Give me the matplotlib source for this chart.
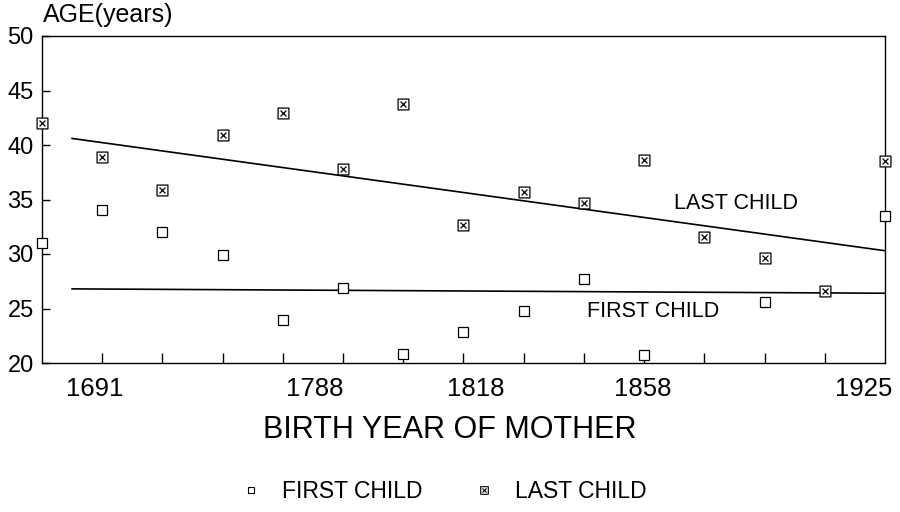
import numpy as np
import matplotlib
matplotlib.use("Agg")
import matplotlib.pyplot as plt
from matplotlib.path import Path
from matplotlib.lines import Line2D

plt.rcParams['font.family'] = ['Liberation Sans', 'DejaVu Sans']

# data (x = generation index along the axis)
gen_idx = list(range(15))
first_idx = [0, 1, 2, 3, 4, 5, 6, 7, 8, 9, 10, 12, 14]
first_age = [31.0, 34.0, 32.0, 29.9, 23.9, 26.9, 20.8, 22.8, 24.8, 27.7, 20.7, 25.6, 33.5]
last_age = [42.0, 38.9, 35.9, 40.9, 42.9, 37.8, 43.8, 32.7, 35.7, 34.7, 38.6, 31.6, 29.6, 26.6, 38.5]

# fitted trend lines (end points)
fit_x = [0.5, 14]
first_fit = [26.8, 26.4]
last_fit = [40.6, 30.3]

year_labels = ['1691', '1788', '1818', '1858', '1925']
year_label_pos = [0.88, 4.53, 7.21, 9.97, 13.64]

# crossed-square marker
verts = [(-1, -1), (1, -1), (1, 1), (-1, 1), (-1, -1),
         (-0.55, -0.55), (0.55, 0.55), (-0.55, 0.55), (0.55, -0.55)]
codes = [Path.MOVETO, Path.LINETO, Path.LINETO, Path.LINETO, Path.CLOSEPOLY,
         Path.MOVETO, Path.LINETO, Path.MOVETO, Path.LINETO]
xsq = Path(verts, codes)

fig = plt.figure(figsize=(9, 5.12), dpi=100)
ax = fig.add_axes([42/900, 1-363/512, (885-42)/900, (363-36)/512])

ax.plot(fit_x, last_fit, color='black', lw=1.2)
ax.plot(fit_x, first_fit, color='black', lw=1.2)

ax.plot(first_idx, first_age, ls='none', marker='s', ms=7, mfc='white',
        mec='black', mew=0.9, clip_on=False, zorder=3)
ax.plot(gen_idx, last_age, ls='none', marker=xsq, ms=7.8, mfc='white',
        mec='black', mew=0.9, clip_on=False, zorder=3)

ax.text(10.5, 34.6, 'LAST CHILD', fontsize=15.5, ha='left', va='center')
ax.text(9.05, 24.7, 'FIRST CHILD', fontsize=15.5, ha='left', va='center')

ax.set_xlim(0, 14)
ax.set_ylim(20, 50)
ax.set_yticks([20, 25, 30, 35, 40, 45, 50])
ax.tick_params(axis='y', direction='in', length=6, width=1, labelsize=17, pad=6)
ax.set_xticks(gen_idx[1:-1], minor=True)
ax.tick_params(axis='x', which='minor', direction='in', length=7, width=1)
ax.set_xticks(year_label_pos, year_labels)
ax.tick_params(axis='x', which='major', length=0, labelsize=18.5, pad=10)
for s in ax.spines.values():
    s.set_linewidth(1)

fig.text(43/900, 1-15/512, 'AGE(years)', fontsize=18, ha='left', va='center')
fig.text(450/900, 1-430/512, 'BIRTH YEAR OF MOTHER', fontsize=22, ha='center', va='center')

handles = [Line2D([], [], ls='none', marker='s', ms=5, mfc='white', mec='black', mew=0.8),
           Line2D([], [], ls='none', marker=xsq, ms=5.5, mfc='white', mec='black', mew=0.8)]
fig.legend(handles, ['FIRST CHILD', 'LAST CHILD'], loc='center', ncol=2,
           bbox_to_anchor=(443/900, 1-492/512), frameon=False, fontsize=16.5,
           handletextpad=0.85, columnspacing=2.2, handlelength=1.0)

fig.savefig('out.png', dpi=100)
